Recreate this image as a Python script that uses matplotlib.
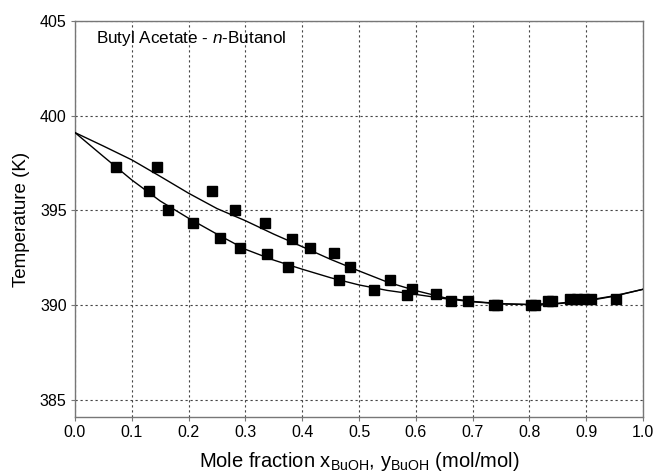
import matplotlib
matplotlib.use("Agg")
import matplotlib.pyplot as plt

plt.rcParams['font.family'] = ['Liberation Sans', 'DejaVu Sans']
plt.rcParams['mathtext.fontset'] = 'custom'
plt.rcParams['mathtext.rm'] = 'Liberation Sans'
plt.rcParams['mathtext.it'] = 'Liberation Sans:italic'

# Experimental VLE data: liquid (bubble) and vapour (dew) compositions
x_liq = [0.072, 0.131, 0.163, 0.208, 0.256, 0.290, 0.3375, 0.3744, 0.464,
         0.527, 0.584, 0.662, 0.737, 0.8025, 0.833, 0.871, 0.896]
T_liq = [397.31, 396.03, 395.03, 394.32, 393.53, 393.04, 392.70, 392.02, 391.33,
         390.82, 390.54, 390.22, 390.03, 390.03, 390.22, 390.35, 390.34]

y_vap = [0.144, 0.241, 0.281, 0.3345, 0.3815, 0.414, 0.4566, 0.4847, 0.5546,
         0.594, 0.635, 0.692, 0.743, 0.8095, 0.839, 0.883, 0.908, 0.952]
T_vap = [397.31, 396.03, 395.00, 394.32, 393.51, 393.00, 392.74, 392.02, 391.33,
         390.84, 390.58, 390.22, 390.03, 390.03, 390.22, 390.34, 390.34, 390.35]

# Correlated bubble- and dew-point curves
x_fit = [0.00, 0.05, 0.10, 0.15, 0.20, 0.25, 0.30, 0.35, 0.40, 0.45, 0.50,
         0.55, 0.60, 0.65, 0.70, 0.75, 0.80, 0.85, 0.90, 0.95, 1.00]
T_bubble = [399.11, 397.85, 396.61, 395.50, 394.59, 393.75, 392.95, 392.38, 391.90,
            391.45, 391.07, 390.78, 390.57, 390.35, 390.18, 390.07, 390.03, 390.08,
            390.22, 390.48, 390.84]
T_dew = [399.11, 398.40, 397.67, 396.80, 395.91, 395.10, 394.46, 393.75, 393.09,
         392.42, 391.81, 391.22, 390.77, 390.40, 390.20, 390.08, 390.04, 390.10,
         390.25, 390.50, 390.84]

x_ticks = [0.0, 0.1, 0.2, 0.3, 0.4, 0.5, 0.6, 0.7, 0.8, 0.9, 1.0]
y_ticks = [385, 390, 395, 400, 405]

fig = plt.figure(figsize=(6.55, 4.75), dpi=100)
ax = fig.add_axes([0.1145, 0.1221, 0.8672, 0.8337])

ax.plot(x_fit, T_bubble, color='black', lw=1.0, zorder=3)
ax.plot(x_fit, T_dew, color='black', lw=1.0, zorder=3)
ax.plot(x_liq, T_liq, 's', color='black', ms=6.5, zorder=4)
ax.plot(y_vap, T_vap, 's', color='black', ms=6.5, zorder=4)

ax.set_xlim(0, 1.0)
ax.set_ylim(384.1, 405)
ax.set_xticks(x_ticks)
ax.set_xticklabels([f"{v:.1f}" for v in x_ticks])
ax.set_yticks(y_ticks)
ax.grid(True, color='#444444', linestyle=(0, (2, 2.5)), linewidth=0.8)
ax.set_axisbelow(True)

for sp in ax.spines.values():
    sp.set_color('#777777')
    sp.set_linewidth(1.0)
ax.tick_params(direction='out', length=3, width=0.8, color='#777777',
               labelsize=11.5, pad=3)

ax.set_ylabel('Temperature (K)', fontsize=13.5, labelpad=7)
ax.set_xlabel(r'Mole fraction x$_{\mathrm{BuOH}}$, y$_{\mathrm{BuOH}}$ (mol/mol)',
              fontsize=14.5, labelpad=7)

ax.text(0.037, 0.944, r'Butyl Acetate - $\it{n}$-Butanol', transform=ax.transAxes,
        fontsize=12.3, va='baseline', ha='left')

fig.savefig('out.png', dpi=100)
